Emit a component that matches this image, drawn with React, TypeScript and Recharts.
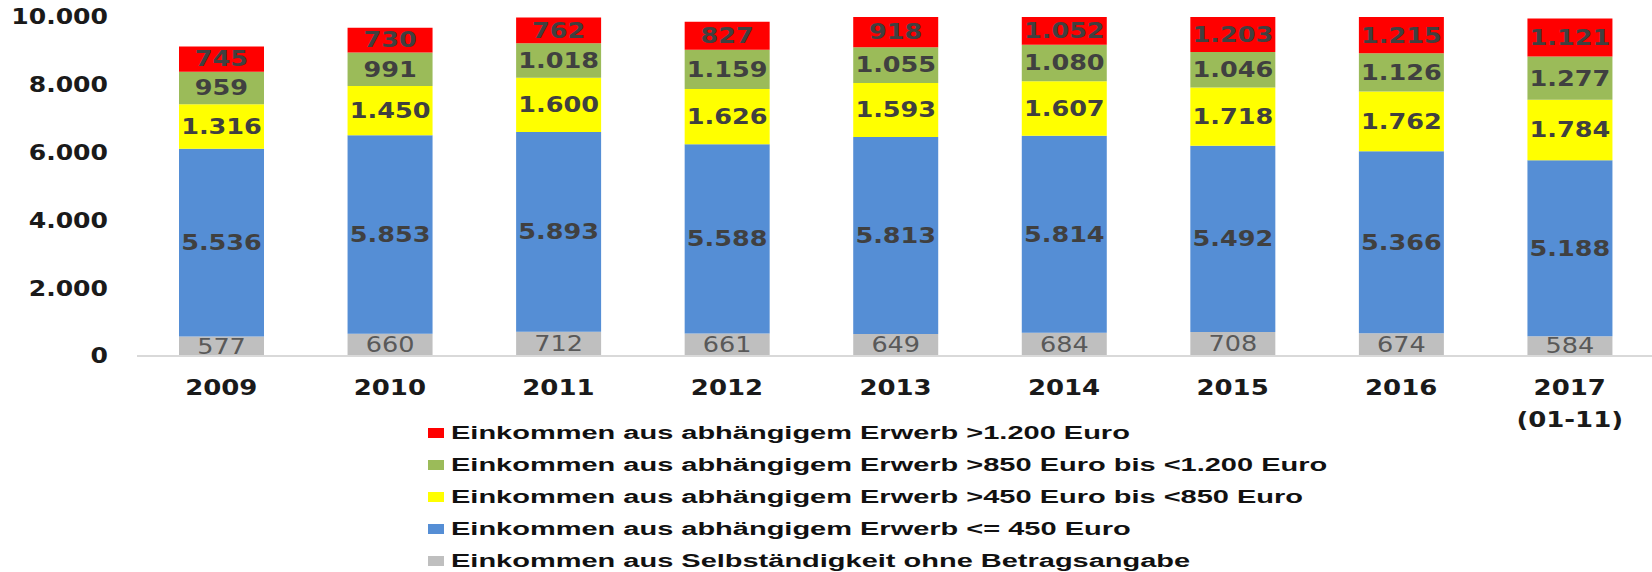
import React from 'react';
import { BarChart, Bar, XAxis, YAxis, LabelList, Legend } from 'recharts';

// Werte
const years = ['2009', '2010', '2011', '2012', '2013', '2014', '2015', '2016', '2017\n(01-11)'];
const selbststaendig = [577, 660, 712, 661, 649, 684, 708, 674, 584];
const bis450 = [5536, 5853, 5893, 5588, 5813, 5814, 5492, 5366, 5188];
const bis850 = [1316, 1450, 1600, 1626, 1593, 1607, 1718, 1762, 1784];
const bis1200 = [959, 991, 1018, 1159, 1055, 1080, 1046, 1126, 1277];
const ueber1200 = [745, 730, 762, 827, 918, 1052, 1203, 1215, 1121];
const yTicks = [0, 2000, 4000, 6000, 8000, 10000];

const series = [
    { key: 'selb', name: 'Einkommen aus Selbständigkeit ohne Betragsangabe', values: selbststaendig, color: '#BFBFBF', light: true },
    { key: 'b450', name: 'Einkommen aus abhängigem Erwerb <= 450 Euro', values: bis450, color: '#558ED5', light: false },
    { key: 'b850', name: 'Einkommen aus abhängigem Erwerb >450 Euro bis <850 Euro', values: bis850, color: '#FFFF00', light: false },
    { key: 'b1200', name: 'Einkommen aus abhängigem Erwerb >850 Euro bis <1.200 Euro', values: bis1200, color: '#9BBB59', light: false },
    { key: 'u1200', name: 'Einkommen aus abhängigem Erwerb >1.200 Euro', values: ueber1200, color: '#FF0000', light: false },
];

const data = years.map((year, i) => {
    const row: Record<string, string | number> = { year };
    series.forEach((s) => {
        row[s.key] = s.values[i];
    });
    return row;
});

const fmt = (v: number) => String(v).replace(/\B(?=(\d{3})+(?!\d))/g, '.');

const makeLabel = (light: boolean) => (props: any) => {
    const { x, y, width, height, value } = props;
    const cx = Number(x) + Number(width) / 2;
    const cy = Number(y) + Number(height) / 2;
    return (
        <text
            transform={`translate(${cx},${cy}) scale(1.16,1)`}
            textAnchor="middle"
            dominantBaseline="central"
            fontFamily="DejaVu Sans"
            fontSize={22}
            fontWeight={light ? 400 : 700}
            fill={light ? '#595959' : '#404040'}
        >
            {fmt(Number(value))}
        </text>
    );
};

const YTick = (props: any) => {
    const { x, y, payload } = props;
    return (
        <text
            transform={`translate(${x},${y}) scale(1.14,1)`}
            textAnchor="end"
            dominantBaseline="central"
            fontFamily="DejaVu Sans"
            fontSize={22}
            fontWeight={700}
            fill="#1a1a1a"
        >
            {fmt(payload.value)}
        </text>
    );
};

const XTick = (props: any) => {
    const { x, y, payload } = props;
    const lines = String(payload.value).split('\n');
    return (
        <g>
            {lines.map((line, i) => (
                <text
                    key={i}
                    transform={`translate(${x},${y + 32 + i * 32}) scale(1.18,1)`}
                    textAnchor="middle"
                    dominantBaseline="central"
                    fontFamily="DejaVu Sans"
                    fontSize={22}
                    fontWeight={700}
                    fill="#1a1a1a"
                >
                    {line}
                </text>
            ))}
        </g>
    );
};

const LegendBox = () => (
    <div>
        {[...series].reverse().map((s) => (
            <div key={s.key} style={{ display: 'flex', alignItems: 'center', height: 32 }}>
                <span style={{ width: 16, height: 10, background: s.color, marginRight: 7, flex: 'none' }} />
                <span
                    style={{
                        display: 'inline-block',
                        whiteSpace: 'nowrap',
                        fontFamily: '"Liberation Sans", Arial, sans-serif',
                        fontSize: 18,
                        fontWeight: 700,
                        color: '#111',
                        transform: 'scaleX(1.61)',
                        transformOrigin: 'left center',
                    }}
                >
                    {s.name}
                </span>
            </div>
        ))}
    </div>
);

export default function App() {
    return (
        <div style={{ position: 'absolute', left: 0, top: 0, background: '#fff' }}>
            <BarChart width={1652} height={572} data={data} margin={{ top: 17, right: -2, bottom: 146, left: 0 }}>
                <XAxis
                    dataKey="year"
                    height={70}
                    tickLine={false}
                    tickSize={0}
                    tickMargin={0}
                    axisLine={{ stroke: '#D9D9D9', strokeWidth: 2 }}
                    tick={<XTick />}
                    interval={0}
                />
                <YAxis
                    width={137}
                    domain={[0, 10000]}
                    ticks={yTicks}
                    allowDataOverflow
                    axisLine={false}
                    tickLine={false}
                    tickSize={0}
                    tickMargin={29}
                    tick={<YTick />}
                />
                <Legend
                    layout="horizontal"
                    verticalAlign="middle"
                    align="center"
                    wrapperStyle={{ left: 428, top: 417, width: 1100 }}
                    content={() => <LegendBox />}
                />
                {series.map((s) => (
                    <Bar key={s.key} dataKey={s.key} name={s.name} stackId="a" fill={s.color} barSize={85} isAnimationActive={false}>
                        <LabelList dataKey={s.key} content={makeLabel(s.light)} />
                    </Bar>
                ))}
            </BarChart>
        </div>
    );
}
